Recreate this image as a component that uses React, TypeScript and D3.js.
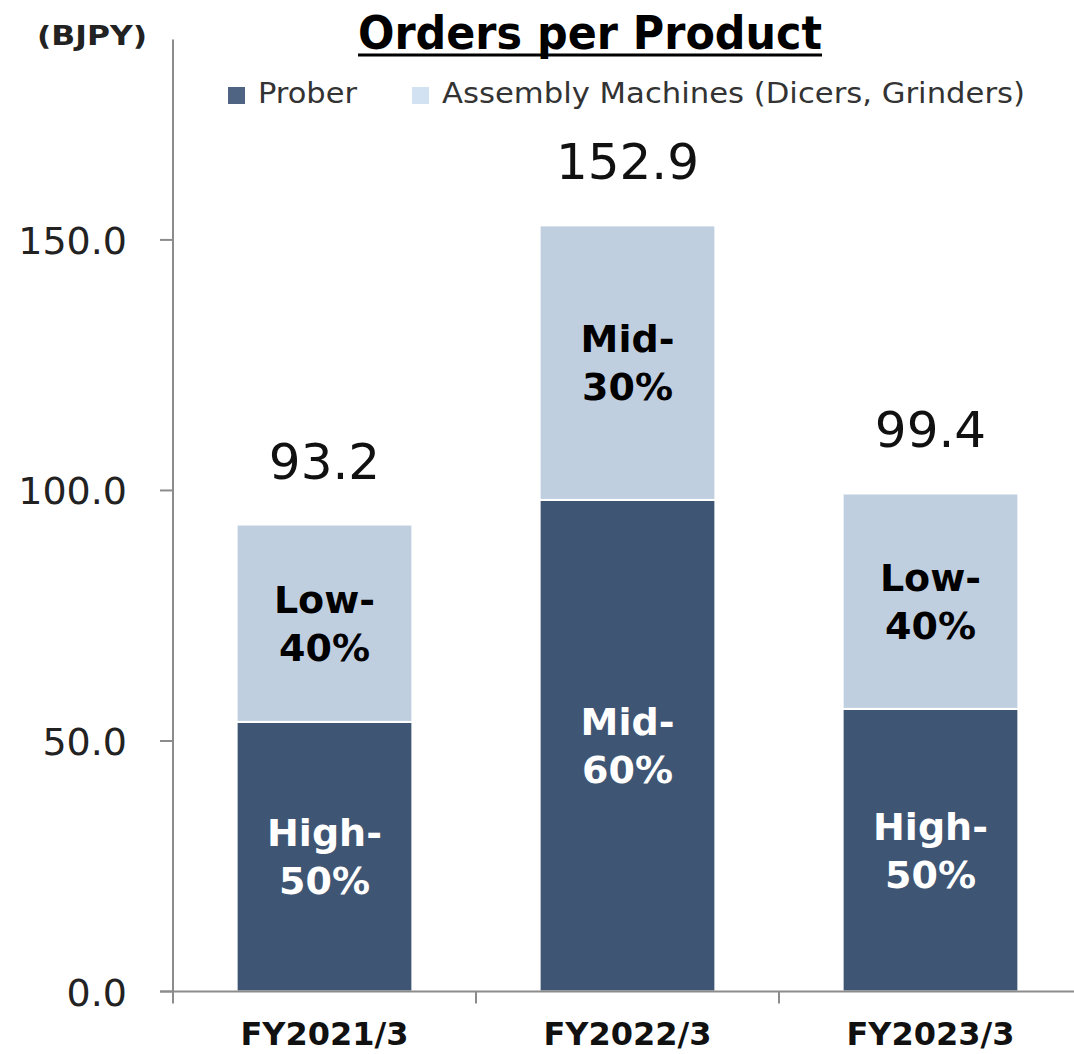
import React from "react";
import * as d3 from "d3";

const categories = ["FY2021/3", "FY2022/3", "FY2023/3"];
const proberValues = [53.8, 98.1, 56.4];
const totalValues = [93.2, 152.9, 99.4];
const assemblyValues = totalValues.map((t, i) => +(t - proberValues[i]).toFixed(1));
const proberLabels = [["High-", "50%"], ["Mid-", "60%"], ["High-", "50%"]];
const assemblyLabels = [["Low-", "40%"], ["Mid-", "30%"], ["Low-", "40%"]];
const yTicks = [0, 50, 100, 150];
const seriesNames = ["Prober", "Assembly Machines (Dicers, Grinders)"];

const W = 1074;
const H = 1054;
const DARK = "#3F5574";
const LIGHT = "#C0CFE0";
const AXIS = "#8C8C8C";
const FONT = "'DejaVu Sans', Verdana, sans-serif";

export default function App() {
  const x = d3
    .scaleBand<string>()
    .domain(categories)
    .range([173, 1082])
    .paddingInner(0.42)
    .paddingOuter(0.21);
  const y = d3.scaleLinear().domain([0, 190]).range([991.5, 39.5]);
  const bw = x.bandwidth();

  const segLabel = (lines: string[], y0: number, y1: number, cx: number, fill: string, key: string) => {
    const mid = (y0 + y1) / 2;
    const fs = 38;
    return (
      <g key={key}>
        {lines.map((ln, j) => (
          <text
            key={j}
            x={cx}
            y={mid + (j === 0 ? -24 : 24) + 0.36 * fs}
            textAnchor="middle"
            fontFamily={FONT}
            fontWeight="bold"
            fontSize={fs}
            fill={fill}
          >
            {ln}
          </text>
        ))}
      </g>
    );
  };

  return (
    <svg
      width={W}
      height={H}
      style={{ position: "absolute", left: 0, top: 0, background: "#fff" }}
    >
      <rect x={0} y={0} width={W} height={H} fill="#fff" />
      {/* Title */}
      <text x={358} y={49} fontFamily={FONT} fontWeight="bold" fontSize={46} fill="#000" textLength={464} lengthAdjust="spacingAndGlyphs">
        Orders per Product
      </text>
      <line x1={358} x2={822} y1={55} y2={55} stroke="#000" strokeWidth={3} />
      {/* unit */}
      <text x={37} y={45} fontFamily={FONT} fontWeight="bold" fontSize={27} fill="#222" textLength={110} lengthAdjust="spacingAndGlyphs">
        (BJPY)
      </text>
      {/* Legend */}
      <rect x={228} y={87} width={17} height={17} fill="#4F6482" />
      <text x={258} y={103} fontFamily={FONT} fontSize={29} fill="#333" textLength={99} lengthAdjust="spacingAndGlyphs">
        {seriesNames[0]}
      </text>
      <rect x={412} y={87} width={17} height={17} fill="#D3E2F2" />
      <text x={442} y={103} fontFamily={FONT} fontSize={29} fill="#333" textLength={583} lengthAdjust="spacingAndGlyphs">
        {seriesNames[1]}
      </text>

      {/* Bars */}
      {categories.map((c, i) => {
        const x0 = x(c)!;
        const yP = y(proberValues[i]);
        const yT = y(proberValues[i] + assemblyValues[i]);
        const y0 = y(0);
        const cx = x0 + bw / 2;
        return (
          <g key={c}>
            <rect x={x0} y={yP} width={bw} height={y0 - yP} fill={DARK} stroke="#fff" strokeWidth={2} />
            <rect x={x0} y={yT} width={bw} height={yP - yT} fill={LIGHT} stroke="#fff" strokeWidth={2} />
            {segLabel(assemblyLabels[i], yT, yP, cx, "#000", "a" + i)}
            {segLabel(proberLabels[i], yP, y0, cx, "#fff", "p" + i)}
            <text x={cx} y={yT - 46} textAnchor="middle" fontFamily={FONT} fontSize={50} fill="#111">
              {totalValues[i].toFixed(1)}
            </text>
          </g>
        );
      })}

      {/* Y axis */}
      <line x1={173} x2={173} y1={y(190)} y2={y(0)} stroke={AXIS} strokeWidth={2} />
      {yTicks.map((t) => (
        <g key={t}>
          <line x1={160} x2={173} y1={y(t)} y2={y(t)} stroke={AXIS} strokeWidth={2} />
          <text x={127} y={y(t) + 14} textAnchor="end" fontFamily={FONT} fontSize={38} fill="#222">
            {t.toFixed(1)}
          </text>
        </g>
      ))}
      {/* X axis */}
      <line x1={160} x2={W} y1={y(0)} y2={y(0)} stroke={AXIS} strokeWidth={2} />
      {[0, 1, 2, 3].map((k) => {
        const xx = 173 + k * x.step();
        return <line key={k} x1={xx} x2={xx} y1={y(0)} y2={y(0) + 12} stroke={AXIS} strokeWidth={2} />;
      })}
      {categories.map((c) => (
        <text
          key={c}
          x={x(c)! + bw / 2}
          y={1045}
          textAnchor="middle"
          fontFamily={FONT}
          fontWeight="bold"
          fontSize={32}
          fill="#111"
        >
          {c}
        </text>
      ))}
    </svg>
  );
}
